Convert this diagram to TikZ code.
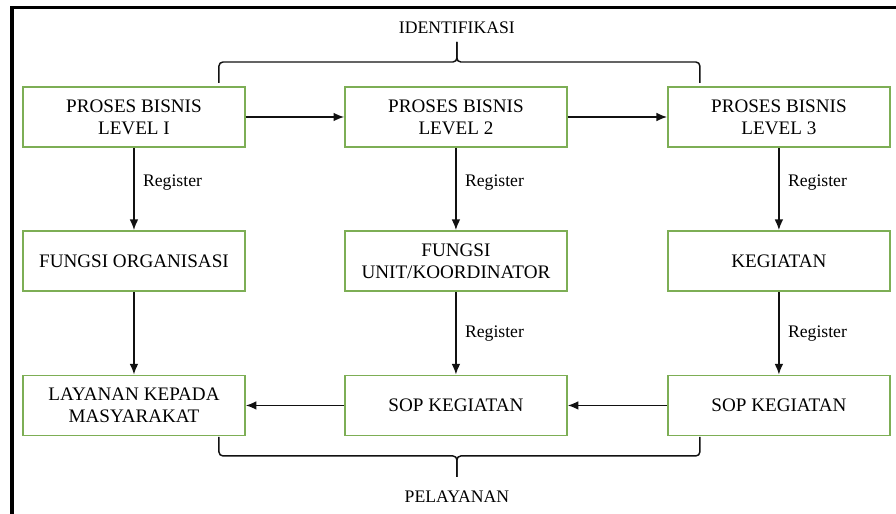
\documentclass[tikz,border=0pt]{standalone}
\usepackage{fontspec}
\setmainfont{Liberation Serif}
\usetikzlibrary{calc,positioning,arrows.meta}
\usepackage{xcolor}
\definecolor{boxgreen}{HTML}{7DAE55}
\definecolor{framedark}{HTML}{000000}
\definecolor{linedark}{HTML}{111111}

\begin{document}
\begin{tikzpicture}[
      every node/.style={font=\fontsize{14.4}{16.5}\selectfont, text=black},
      box/.style={draw=boxgreen, line width=1.3pt, minimum width=\bw,
                  minimum height=\bh, align=center, inner sep=2pt},
      arr/.style={draw=linedark, line width=1.1pt, -{Latex[length=8pt,width=6.5pt]}},
      lbl/.style={font=\fontsize{13.3}{15}\selectfont, right=3pt},
      brc/.style={draw=linedark, line width=1.1pt, rounded corners=3pt}
    ]
      % Ukuran kotak
      \def\bw{5.87cm}
      \def\bh{1.59cm}
      \useasboundingbox (0,0) rectangle (23.71,-13.6);

      % Bingkai
      \draw[framedark, line width=2.6pt] (0.3175,-13.7) -- (0.3175,-0.198) -- (23.8,-0.198);

      % Baris 1
      \node[box] (p1) at (3.545,-3.096) {PROSES BISNIS\\LEVEL I};
      \node[box] (p2) at (12.065,-3.096) {PROSES BISNIS\\LEVEL 2};
      \node[box] (p3) at (20.611,-3.096) {PROSES BISNIS\\LEVEL 3};

      % Baris 2
      \node[box] (f1) at (3.545,-6.906) {FUNGSI ORGANISASI};
      \node[box] (f2) at (12.065,-6.906) {FUNGSI\\UNIT/KOORDINATOR};
      \node[box] (k3) at (20.611,-6.906) {KEGIATAN};

      % Baris 3
      \node[box] (l1) at (3.545,-10.729) {LAYANAN KEPADA\\MASYARAKAT};
      \node[box] (s2) at (12.065,-10.729) {SOP KEGIATAN};
      \node[box] (s3) at (20.611,-10.729) {SOP KEGIATAN};

      % Panah
      \draw[arr] (p1) -- (p2);
      \draw[arr] (p2) -- (p3);
      \draw[arr] (p1) -- node[lbl, pos=0.42] {Register} (f1);
      \draw[arr] (p2) -- node[lbl, pos=0.42] {Register} (f2);
      \draw[arr] (p3) -- node[lbl, pos=0.42] {Register} (k3);
      \draw[arr] (f1) -- (l1);
      \draw[arr] (f2) -- node[lbl] {Register} (s2);
      \draw[arr] (k3) -- node[lbl] {Register} (s3);
      \draw[arr] (s3) -- (s2);
      \draw[arr] (s2) -- (l1);

      % Kurung atas
      \coordinate (tl) at (5.794,-2.196);
      \coordinate (tr) at (18.52,-2.196);
      \coordinate (tt) at (12.09,-1.111);
      \draw[brc] (tl) |- ($(tt)+(0,-0.53)$) -- (tt);
      \draw[brc] (tr) |- ($(tt)+(0,-0.53)$) -- (tt);
      \node[font=\fontsize{13.3}{15}\selectfont] (ident) at (12.09,-0.741) {IDENTIFIKASI};

      % Kurung bawah
      \coordinate (bl) at (5.794,-11.562);
      \coordinate (br) at (18.52,-11.562);
      \coordinate (bt) at (12.09,-12.62);
      \draw[brc] (bl) |- ($(bt)+(0,0.555)$) -- (bt);
      \draw[brc] (br) |- ($(bt)+(0,0.555)$) -- (bt);
      \node[font=\fontsize{13.3}{15}\selectfont] (layan) at (12.09,-13.15) {PELAYANAN};
    \end{tikzpicture}
\end{document}
